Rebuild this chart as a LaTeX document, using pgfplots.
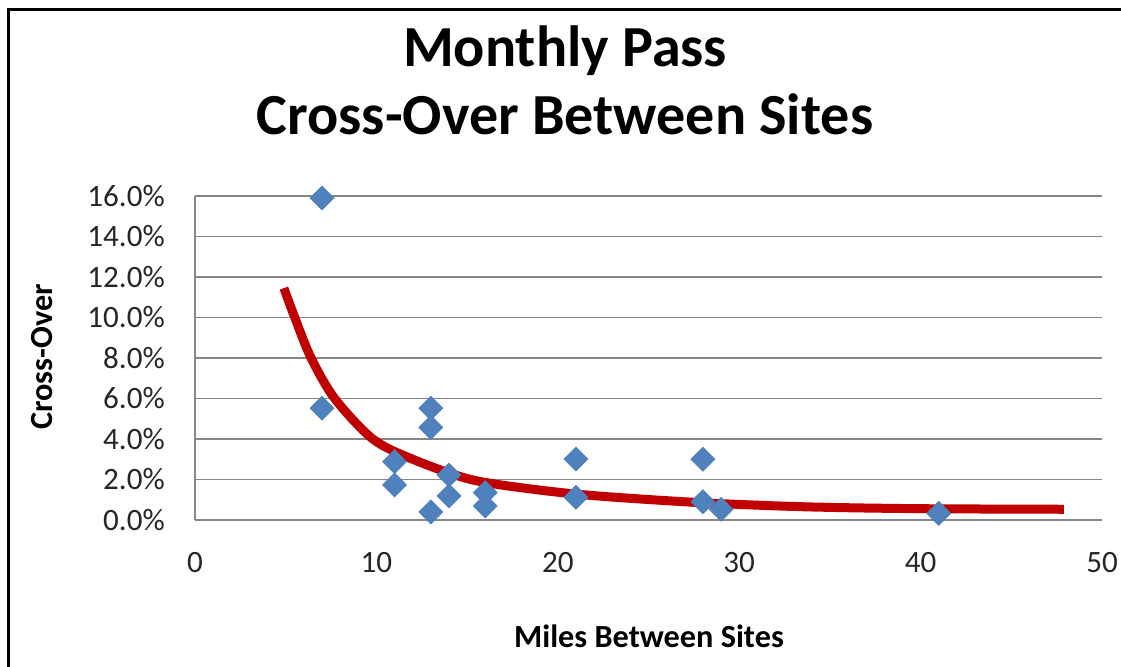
\documentclass[border=0pt]{standalone}
\usepackage{pgfplots}
\pgfplotsset{compat=1.18}
\usepackage{fontspec}
\setmainfont{Carlito}
\definecolor{gridgray}{RGB}{134,134,134}
\definecolor{markblue}{RGB}{79,129,189}
\definecolor{trendred}{RGB}{192,0,0}
\begin{document}
\begin{tikzpicture}
\useasboundingbox (0,0) rectangle (840.75pt,500.25pt);
\draw[line width=2pt,black] (6.6pt,-20pt) -- (6.6pt,493pt) -- (860pt,493pt);
\begin{axis}[
  at={(146.25pt,110.25pt)}, anchor=south west,
  scale only axis, width=680.25pt, height=243pt,
  xmin=0, xmax=50, ymin=0, ymax=16,
  xtick={0,10,20,30,40,50}, ytick={0,2,4,6,8,10,12,14,16},
  axis lines*=left,
  axis line style={color=gridgray, line width=1.3pt},
  ymajorgrids, grid style={color=gridgray, line width=1.1pt},
  tick style={draw=none},
  /pgf/number format/assume math mode=true,
  ticklabel style={font=\fontsize{23.3}{28}\selectfont, text=black!85},
  yticklabel={\pgfmathprintnumber[fixed,fixed zerofill,precision=1]{\tick}\%},
  yticklabel style={anchor=east, inner sep=0pt, xshift=-22.5pt},
  xticklabel style={anchor=base, inner sep=0pt, yshift=-39.75pt},
  clip=false,
]
\addplot[only marks, mark=square*, mark size=6.4pt,
  mark options={rotate=45, fill=markblue, draw=markblue}]
  coordinates {
  (7,15.9) (7,5.52) (11,2.88) (11,1.73) (13,5.52) (13,4.57) (13,0.4)
  (14,2.22) (14,1.19) (16,1.35) (16,0.69) (21,3.01) (21,1.12)
  (28,3.0) (28,0.9) (29,0.53) (41,0.33)
  };
\addplot[smooth, color=trendred, line width=6.75pt] coordinates {
  (4.9,11.45) (5.5,10) (6.4,8) (7.7,6) (9.8,4) (12.0,3) (15.2,2)
  (18.8,1.5) (22.3,1.18) (28,0.85) (33.7,0.65) (39.8,0.56) (47.9,0.53)
  };
\end{axis}
\node[anchor=base, font=\fontsize{43.6}{52}\selectfont\bfseries] at (423.75pt,450pt) {Monthly Pass};
\node[anchor=base, font=\fontsize{43.6}{52}\selectfont\bfseries] at (423.75pt,399pt) {Cross-Over Between Sites};
\node[anchor=base, font=\fontsize{24.2}{29}\selectfont\bfseries] at (486.75pt,14.25pt) {Miles Between Sites};
\node[anchor=base, rotate=90, font=\fontsize{24.2}{29}\selectfont\bfseries] at (39pt,232.5pt) {Cross-Over};
\end{tikzpicture}
\end{document}
